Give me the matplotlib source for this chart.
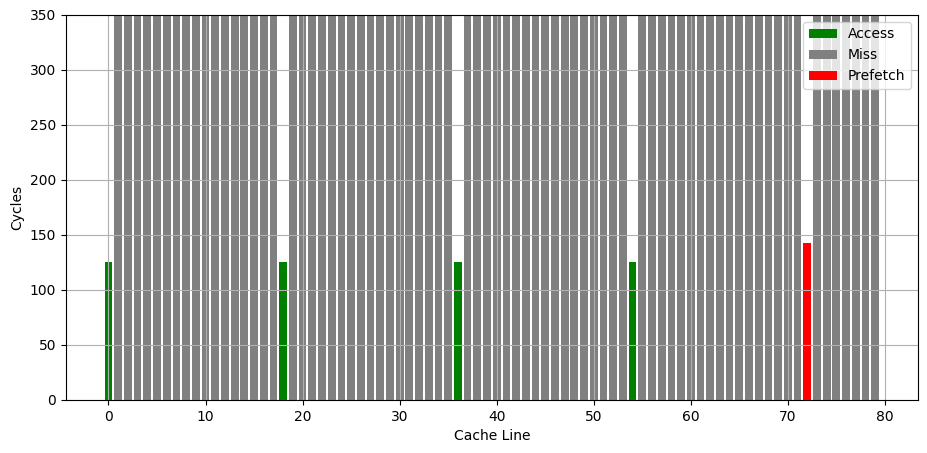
import matplotlib
matplotlib.use("Agg")
import matplotlib.pyplot as plt

access_lines = [0, 18, 36, 54]
access_cycles = [125, 125, 125, 125]

prefetch_lines = [72]
prefetch_cycles = [143]

miss_lines = [1, 2, 3, 4, 5, 6, 7, 8, 9, 10, 11, 12, 13, 14, 15, 16, 17,
              19, 20, 21, 22, 23, 24, 25, 26, 27, 28, 29, 30, 31, 32, 33, 34, 35,
              37, 38, 39, 40, 41, 42, 43, 44, 45, 46, 47, 48, 49, 50, 51, 52, 53,
              55, 56, 57, 58, 59, 60, 61, 62, 63, 64, 65, 66, 67, 68, 69, 70, 71,
              73, 74, 75, 76, 77, 78, 79]
miss_cycles = [400] * len(miss_lines)

fig, ax = plt.subplots(figsize=(9.28, 4.53), dpi=100)
fig.subplots_adjust(left=0.071, right=0.989, top=0.967, bottom=0.117)

ax.bar(access_lines, access_cycles, color="green", label="Access")
ax.bar(miss_lines, miss_cycles, color="gray", label="Miss")
ax.bar(prefetch_lines, prefetch_cycles, color="red", label="Prefetch")

ax.set_ylim(0, 350)
ax.set_xlabel("Cache Line")
ax.set_ylabel("Cycles")
ax.grid(True)
ax.legend(loc="upper right")

fig.savefig("out.png")
